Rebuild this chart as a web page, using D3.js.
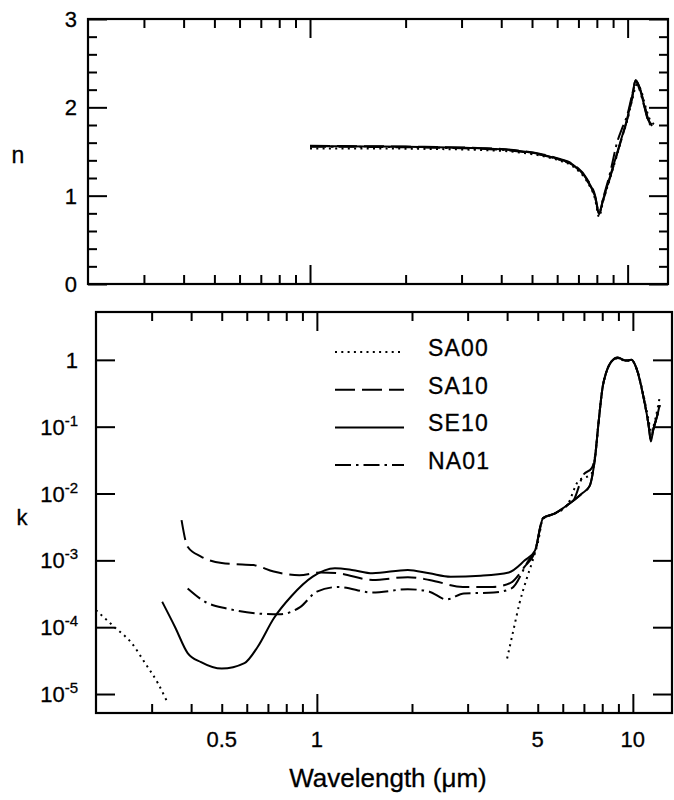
<!DOCTYPE html>
<html>
<head>
<meta charset="utf-8">
<script src="https://cdn.jsdelivr.net/npm/d3@7"></script>
<style>
  body { margin: 0; background: #fff; }
  svg { font-family: 'Liberation Sans', Arial, sans-serif; }
  text { stroke: #000; stroke-width: 0.3; }
</style>
</head>
<body>
<svg id="chart" width="674" height="800"></svg>
<script>
// refractive index n (top panel)
const nWave = [1.0, 1.5, 2.0, 2.5, 3.0, 3.5, 4.0, 4.56, 5.28, 6.12, 6.73, 7.45, 7.9, 8.13, 8.36, 8.81, 9.26, 9.6, 9.95, 10.33, 10.6, 10.9, 11.3, 11.6, 11.95];
const nSE10 = [1.56, 1.557, 1.553, 1.548, 1.542, 1.535, 1.525, 1.505, 1.47, 1.41, 1.35, 1.18, 0.99, 0.80, 0.95, 1.22, 1.48, 1.67, 1.86, 2.12, 2.31, 2.22, 2.01, 1.86, 1.79];
const nSA10 = [1.565, 1.56, 1.556, 1.55, 1.545, 1.538, 1.528, 1.508, 1.475, 1.415, 1.355, 1.19, 1.0, 0.81, 0.94, 1.21, 1.47, 1.66, 1.85, 2.1, 2.3, 2.23, 2.03, 1.87, 1.8];
const nNA01 = [1.555, 1.552, 1.548, 1.543, 1.537, 1.53, 1.52, 1.5, 1.465, 1.405, 1.345, 1.17, 0.98, 0.79, 0.96, 1.26, 1.6, 1.76, 1.9, 2.14, 2.3, 2.2, 2.0, 1.85, 1.78];
const nWaveSA00 = [1.0, 1.5, 2.0, 2.5, 3.0, 3.5, 4.0, 4.56, 5.28, 6.12, 6.73, 7.45, 7.9, 8.13, 8.36, 8.81, 9.26, 9.6, 9.95, 10.33, 10.7, 11.0, 11.4, 11.8, 12.3];
const nSA00 = [1.535, 1.535, 1.532, 1.528, 1.523, 1.516, 1.508, 1.49, 1.455, 1.395, 1.33, 1.16, 0.96, 0.76, 0.93, 1.2, 1.46, 1.66, 1.84, 2.08, 2.26, 2.2, 2.0, 1.85, 1.8];

// absorption index k (bottom panel)
const kWaveSA00 = [0.2, 0.229, 0.26, 0.286, 0.314, 0.334, null, 4.0, 4.19, 4.38, 4.6, 4.82, 5.0, 5.2, 5.65, 6.2, 6.7, 7.4, 7.6, 7.78, 8.03, 8.22, 8.55, 8.95, 9.5, 9.9, 10.3, 10.8, 11.2, 11.4, 11.6, 11.8, 12.15];
const kSA00 = [1.8e-4, 1.0e-4, 5.7e-5, 2.9e-5, 1.45e-5, 8.1e-6, null, 3.4e-5, 9.1e-5, 2.3e-4, 5.1e-4, 1.0e-3, 1.8e-3, 4.2e-3, 5.0e-3, 6.7e-3, 1.5e-2, 2.0e-2, 3.6e-2, 0.11, 0.40, 0.63, 0.94, 1.06, 0.96, 0.98, 0.72, 0.3, 0.13, 0.09, 0.1, 0.135, 0.27];
const kWaveSA10 = [0.373, 0.39, 0.43, 0.5, 0.55, 0.63, 0.73, 0.88, 1.03, 1.17, 1.5, 1.94, 2.27, 2.9, 3.6, 4.1, 4.55, 4.9, 5.2, 5.65, 6.2, 6.9, 7.3, 7.45, 7.6, 7.78, 8.03, 8.22, 8.55, 8.95, 9.5, 9.9, 10.3, 10.8, 11.2, 11.4, 11.6, 12.0, 12.15];
const kSA10 = [4.0e-3, 1.6e-3, 1.14e-3, 9.1e-4, 8.8e-4, 8.5e-4, 6.8e-4, 6.0e-4, 6.6e-4, 6.4e-4, 5.1e-4, 5.6e-4, 5.1e-4, 4.0e-4, 4.0e-4, 4.6e-4, 8.1e-4, 1.35e-3, 4.3e-3, 5.0e-3, 6.7e-3, 1.0e-2, 1.3e-2, 1.9e-2, 3.6e-2, 0.11, 0.40, 0.63, 0.94, 1.08, 0.98, 1.0, 0.71, 0.28, 0.11, 0.065, 0.09, 0.16, 0.21];
const kWaveSE10 = [0.324, 0.356, 0.39, 0.43, 0.5, 0.59, 0.65, 0.73, 0.83, 0.97, 1.14, 1.29, 1.5, 1.94, 2.27, 2.65, 3.3, 4.05, 4.55, 4.9, 5.2, 5.65, 6.2, 6.9, 7.3, 7.45, 7.6, 7.78, 8.03, 8.22, 8.55, 8.95, 9.5, 9.9, 10.3, 10.8, 11.2, 11.4, 11.6, 12.0, 12.15];
const kSE10 = [2.4e-4, 1.0e-4, 4.1e-5, 3.0e-5, 2.4e-5, 2.9e-5, 5.1e-5, 1.35e-4, 2.9e-4, 5.7e-4, 7.6e-4, 7.2e-4, 6.4e-4, 7.2e-4, 6.4e-4, 5.7e-4, 5.9e-4, 6.6e-4, 1.0e-3, 1.4e-3, 4.3e-3, 5.0e-3, 6.7e-3, 1.0e-2, 1.3e-2, 1.9e-2, 3.6e-2, 0.11, 0.40, 0.63, 0.94, 1.08, 0.98, 1.0, 0.71, 0.28, 0.11, 0.06, 0.09, 0.16, 0.21];
const kWaveNA01 = [0.39, 0.443, 0.52, 0.65, 0.76, 0.885, 1.0, 1.17, 1.5, 1.94, 2.27, 2.57, 2.92, 3.63, 4.13, 4.68, 4.9, 5.2, 5.65, 6.2, 6.5, 6.97, 7.41, 7.6, 7.78, 8.03, 8.22, 8.55, 8.95, 9.5, 9.9, 10.3, 10.8, 11.2, 11.4, 11.6, 12.0, 12.15];
const kNA01 = [3.8e-4, 2.4e-4, 1.9e-4, 1.6e-4, 1.56e-4, 2.0e-4, 3.4e-4, 4.0e-4, 3.3e-4, 3.7e-4, 3.4e-4, 2.6e-4, 3.2e-4, 3.3e-4, 3.8e-4, 1.0e-3, 1.35e-3, 4.3e-3, 5.0e-3, 6.7e-3, 8.0e-3, 1.9e-2, 2.4e-2, 3.8e-2, 0.11, 0.40, 0.63, 0.94, 1.07, 0.98, 1.0, 0.71, 0.28, 0.11, 0.065, 0.09, 0.16, 0.21];

// ticks and labels
const minorX = [0.3, 0.4, 0.5, 0.6, 0.7, 0.8, 0.9, 2, 3, 4, 5, 6, 7, 8, 9];
const majorX = [1, 10];
const xLabels = [0.5, 1, 5, 10];
const nMajor = [0, 1, 2, 3];
const nMinor = [0.2, 0.4, 0.6, 0.8, 1.2, 1.4, 1.6, 1.8, 2.2, 2.4, 2.6, 2.8];
const kDecades = [0, -1, -2, -3, -4, -5];
const seriesNames = ['SA00', 'SA10', 'SE10', 'NA01'];
const dashes = ['2,4.3', '20,7', null, '16,5,2.5,5'];

const svg = d3.select('#chart');

const xTop = d3.scaleLog().domain([0.2, 13.4]).range([88, 668]);
const yTop = d3.scaleLinear().domain([0, 3]).range([284, 19]);
const xBot = d3.scaleLog().domain([0.2, 13.3]).range([96, 672]);
const yBot = d3.scaleLog().domain([5.2e-6, 5.2]).range([713, 312]);

const inward = (g, axis, pos, len) => {
  g.append('g')
    .attr('transform', pos)
    .call(axis.tickSize(-len).tickFormat(''))
    .call(g => g.select('.domain').remove())
    .call(g => g.selectAll('line').attr('stroke-width', 2));
};

const drawPanel = (x, y, yMajor, yMinor) => {
  const g = svg.append('g');
  const [x0, x1] = x.range();
  const [y0, y1] = y.range();

  inward(g, d3.axisBottom(x).tickValues(minorX), `translate(0,${y0})`, 9);
  inward(g, d3.axisBottom(x).tickValues(majorX), `translate(0,${y0})`, 19);
  inward(g, d3.axisTop(x).tickValues(minorX), `translate(0,${y1})`, 9);
  inward(g, d3.axisTop(x).tickValues(majorX), `translate(0,${y1})`, 19);
  inward(g, d3.axisLeft(y).tickValues(yMajor), `translate(${x0},0)`, 19);
  inward(g, d3.axisRight(y).tickValues(yMajor), `translate(${x1},0)`, 19);
  if (yMinor) {
    inward(g, d3.axisLeft(y).tickValues(yMinor), `translate(${x0},0)`, 9);
    inward(g, d3.axisRight(y).tickValues(yMinor), `translate(${x1},0)`, 9);
  }

  g.append('rect')
    .attr('x', x0)
    .attr('y', y1)
    .attr('width', x1 - x0)
    .attr('height', y0 - y1)
    .attr('fill', 'none')
    .attr('stroke', '#000')
    .attr('stroke-width', 2.2);
  return g;
};

const topPanel = drawPanel(xTop, yTop, nMajor, nMinor);
const botPanel = drawPanel(xBot, yBot, kDecades.map(e => Math.pow(10, e)), null);

const nSeries = [
  { wave: nWaveSA00, vals: nSA00, dash: dashes[0] },
  { wave: nWave, vals: nSA10, dash: dashes[1] },
  { wave: nWave, vals: nSE10, dash: dashes[2] },
  { wave: nWave, vals: nNA01, dash: dashes[3] }
];
const kSeries = [
  { wave: kWaveSA00, vals: kSA00, dash: dashes[0] },
  { wave: kWaveSA10, vals: kSA10, dash: dashes[1] },
  { wave: kWaveSE10, vals: kSE10, dash: dashes[2] },
  { wave: kWaveNA01, vals: kNA01, dash: dashes[3] }
];

const drawLines = (g, series, x, y) => {
  const line = d3.line()
    .defined(d => d[0] != null && d[1] != null)
    .x(d => x(d[0]))
    .y(d => y(d[1]))
    .curve(d3.curveMonotoneX);
  g.append('g')
    .selectAll('path')
    .data(series)
    .join('path')
    .attr('fill', 'none')
    .attr('stroke', '#000')
    .attr('stroke-width', 2)
    .attr('stroke-dasharray', d => d.dash)
    .attr('d', d => line(d.wave.map((w, i) => [w, d.vals[i]])));
};

drawLines(topPanel, nSeries, xTop, yTop);
drawLines(botPanel, kSeries, xBot, yBot);

// y labels, top
topPanel.append('g')
  .attr('font-size', 22)
  .attr('text-anchor', 'end')
  .selectAll('text')
  .data(nMajor)
  .join('text')
  .attr('x', xTop.range()[0] - 11)
  .attr('y', d => yTop(d) + 8)
  .text(d => d);

topPanel.append('text')
  .attr('x', 18)
  .attr('y', 163)
  .attr('font-size', 23)
  .attr('text-anchor', 'middle')
  .text('n');

// y labels, bottom
const kLab = botPanel.append('g')
  .attr('font-size', 22)
  .attr('text-anchor', 'end')
  .selectAll('text')
  .data(kDecades)
  .join('text')
  .attr('x', 78)
  .attr('y', d => yBot(Math.pow(10, d)) + 8);

kLab.filter(d => d === 0).text('1');
kLab.filter(d => d !== 0).each(function(d) {
  const t = d3.select(this);
  t.append('tspan').text('10');
  t.append('tspan')
    .attr('font-size', 15)
    .attr('dy', -9)
    .text(`-${-d}`);
});

botPanel.append('text')
  .attr('x', 22)
  .attr('y', 525)
  .attr('font-size', 22)
  .attr('text-anchor', 'middle')
  .text('k');

// x labels
botPanel.append('g')
  .attr('font-size', 22)
  .attr('text-anchor', 'middle')
  .selectAll('text')
  .data(xLabels)
  .join('text')
  .attr('x', d => xBot(d))
  .attr('y', 747)
  .text(d => d);

svg.append('text')
  .attr('x', 388)
  .attr('y', 787)
  .attr('font-size', 26)
  .attr('text-anchor', 'middle')
  .text('Wavelength (μm)');

// legend
const legend = botPanel.append('g')
  .selectAll('g')
  .data(seriesNames)
  .join('g')
  .attr('transform', (d, i) => `translate(335,${352 + i * 37.7})`);

legend.append('line')
  .attr('x1', 0)
  .attr('x2', 69)
  .attr('stroke', '#000')
  .attr('stroke-width', 2)
  .attr('stroke-dasharray', (d, i) => dashes[i]);

legend.append('text')
  .attr('x', 93)
  .attr('y', 4)
  .attr('font-size', 23)
  .attr('letter-spacing', 1.2)
  .text(d => d);
</script>
</body>
</html>
